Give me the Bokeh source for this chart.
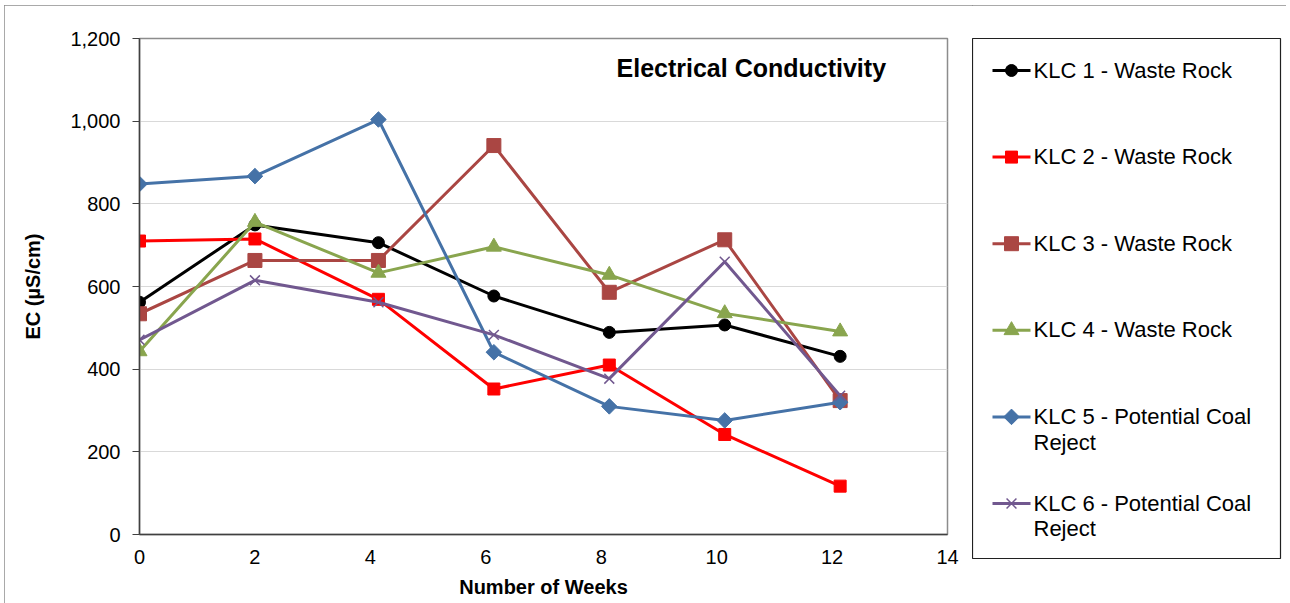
from bokeh.plotting import figure
from bokeh.layouts import row
from bokeh.models import Label, FixedTicker, NumeralTickFormatter, Range1d
from bokeh.embed import file_html
from bokeh.resources import INLINE

# Sampling times (weeks) and electrical conductivity readings (uS/cm)
weeks = [0, 2, 4.14, 6.14, 8.14, 10.14, 12.14]
klc1 = [562, 749, 706, 577, 489, 507, 431]
klc2 = [710, 715, 569, 352, 410, 242, 117]
klc3 = [534, 663, 663, 941, 586, 713, 324]
klc4 = [443, 756, 633, 696, 628, 535, 491]
klc5 = [848, 867, 1004, 441, 310, 276, 320]
klc6 = [471, 615, 562, 483, 377, 660, 336]

labels = ["KLC 1 - Waste Rock", "KLC 2 - Waste Rock", "KLC 3 - Waste Rock",
          "KLC 4 - Waste Rock", "KLC 5 - Potential Coal\nReject",
          "KLC 6 - Potential Coal\nReject"]
y_ticks = [0, 200, 400, 600, 800, 1000, 1200]
x_ticks = [0, 2, 4, 6, 8, 10, 12, 14]

FONT = "Liberation Sans"

# (values, colour, marker, size, angle)
series = [
    (klc1, "black", "circle", 12, 0),
    (klc2, "#ff0000", "square", 12, 0),
    (klc3, "#aa4643", "square", 14, 0),
    (klc4, "#89a54e", "triangle", 15, 0),
    (klc5, "#4572a7", "square", 11, 0.785398),
    (klc6, "#71588f", "x", 14, 0),
]

# ---- main chart -----------------------------------------------------------
p = figure(frame_width=808, frame_height=496, output_backend="svg",
           toolbar_location=None,
           x_range=Range1d(0, 14), y_range=Range1d(0, 1200),
           min_border_left=135, min_border_right=25, min_border_top=33,
           min_border_bottom=80)

p.outline_line_color = "#8c8c8c"
p.outline_line_width = 1.5
p.xgrid.visible = False
p.ygrid.grid_line_color = "#d9d9d9"
p.ygrid.grid_line_width = 1.2

p.yaxis.ticker = FixedTicker(ticks=y_ticks)
p.yaxis.formatter = NumeralTickFormatter(format="0,0")
p.xaxis.ticker = FixedTicker(ticks=x_ticks)
for ax in (p.xaxis[0], p.yaxis[0]):
    ax.axis_line_color = "#404040"
    ax.axis_line_width = 1.5
    ax.major_tick_line_color = "#404040"
    ax.minor_tick_line_color = None
    ax.major_label_text_font = FONT
    ax.major_label_text_font_size = "20px"
    ax.major_label_text_color = "black"
    ax.axis_label_text_font = FONT
    ax.axis_label_text_font_size = "20px"
    ax.axis_label_text_font_style = "bold"
    ax.axis_label_text_color = "black"
p.yaxis.major_tick_out = 7
p.yaxis.major_tick_in = 0
p.yaxis.major_label_standoff = 12
p.yaxis.axis_label = "EC (µS/cm)"
p.yaxis.axis_label_standoff = 23
p.xaxis.major_tick_out = 0
p.xaxis.major_tick_in = 0
p.xaxis.major_label_standoff = 15
p.xaxis.axis_label = "Number of Weeks"
p.xaxis.axis_label_standoff = 9

for vals, color, marker, size, ang in series:
    p.line(weeks, vals, line_color=color, line_width=3)
    p.scatter(weeks, vals, marker=marker, size=size, angle=ang,
              fill_color=color, line_color=color,
              line_width=1.5 if marker == "x" else 1)

p.add_layout(Label(x=10.6, y=1128, text="Electrical Conductivity",
                   text_font=FONT, text_font_size="25px",
                   text_font_style="bold", text_align="center",
                   text_baseline="middle", text_color="black"))

# ---- legend panel (its frame is the legend box) ---------------------------
BOX_W, BOX_H = 308, 520
ROW0, ROW_STEP = 32, 86.6
leg = figure(frame_width=BOX_W, frame_height=BOX_H, output_backend="svg",
             toolbar_location=None,
             x_range=Range1d(0, BOX_W), y_range=Range1d(BOX_H, 0),
             x_axis_location=None, y_axis_location=None,
             min_border_left=0, min_border_right=6, min_border_top=33,
             min_border_bottom=50)
leg.grid.visible = False
leg.outline_line_color = "#202020"
leg.outline_line_width = 1.2

for i, ((vals, color, marker, size, ang), lab) in enumerate(zip(series, labels)):
    yc = ROW0 + ROW_STEP * i
    leg.line([20, 58], [yc, yc], line_color=color, line_width=3)
    leg.scatter([39], [yc], marker=marker, size=size, angle=ang,
                fill_color=color, line_color=color,
                line_width=1.5 if marker == "x" else 1)
    leg.text([61], [yc], text=[lab], text_font_size="22px",
             text_font={"value": FONT}, text_color="black",
             text_baseline="top", y_offset=-13, text_line_height=1.03)

layout = row(p, leg, margin=(5, 0, 0, 4))
layout.styles = {"outline": "1.5px solid #8c8c8c", "outline-offset": "-1px"}

open("out.html", "w").write(file_html(layout, INLINE))
